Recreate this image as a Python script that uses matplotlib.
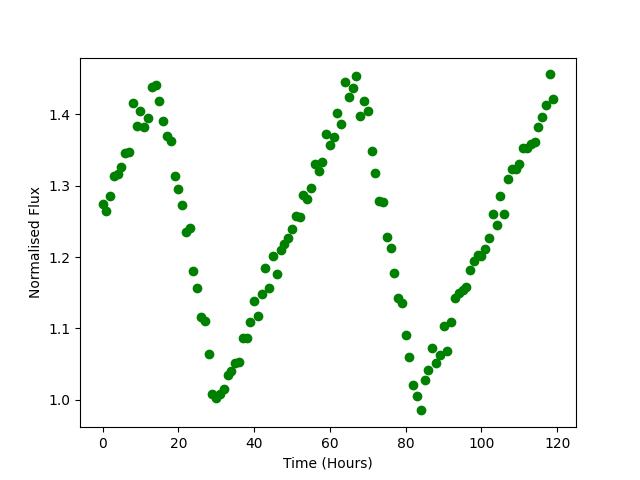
import numpy as np
import matplotlib
matplotlib.use("Agg")
import matplotlib.pyplot as plt

# hourly samples
hours = np.arange(120)
flux = [
    1.274, 1.265, 1.286, 1.314, 1.316, 1.326, 1.346, 1.347, 1.416, 1.383,
    1.404, 1.382, 1.395, 1.438, 1.441, 1.419, 1.391, 1.369, 1.362, 1.314,
    1.296, 1.273, 1.235, 1.240, 1.181, 1.156, 1.116, 1.110, 1.064, 1.008,
    1.003, 1.008, 1.015, 1.034, 1.040, 1.052, 1.053, 1.087, 1.087, 1.109,
    1.139, 1.118, 1.148, 1.184, 1.156, 1.202, 1.176, 1.210, 1.218, 1.226,
    1.239, 1.257, 1.256, 1.287, 1.282, 1.297, 1.331, 1.321, 1.333, 1.372,
    1.357, 1.368, 1.402, 1.386, 1.446, 1.425, 1.437, 1.454, 1.397, 1.419,
    1.404, 1.348, 1.318, 1.279, 1.277, 1.228, 1.213, 1.177, 1.142, 1.136,
    1.091, 1.060, 1.020, 1.005, 0.985, 1.028, 1.042, 1.073, 1.051, 1.063,
    1.104, 1.068, 1.109, 1.142, 1.149, 1.154, 1.158, 1.182, 1.194, 1.203,
    1.201, 1.211, 1.226, 1.260, 1.245, 1.286, 1.260, 1.309, 1.323, 1.324,
    1.331, 1.353, 1.353, 1.359, 1.361, 1.382, 1.396, 1.413, 1.456, 1.422,
]

fig, ax = plt.subplots(figsize=(6.4, 4.8), dpi=100)
ax.plot(hours, flux, "go")
ax.set_xlabel("Time (Hours)")
ax.set_ylabel("Normalised Flux")
fig.savefig("out.png")
